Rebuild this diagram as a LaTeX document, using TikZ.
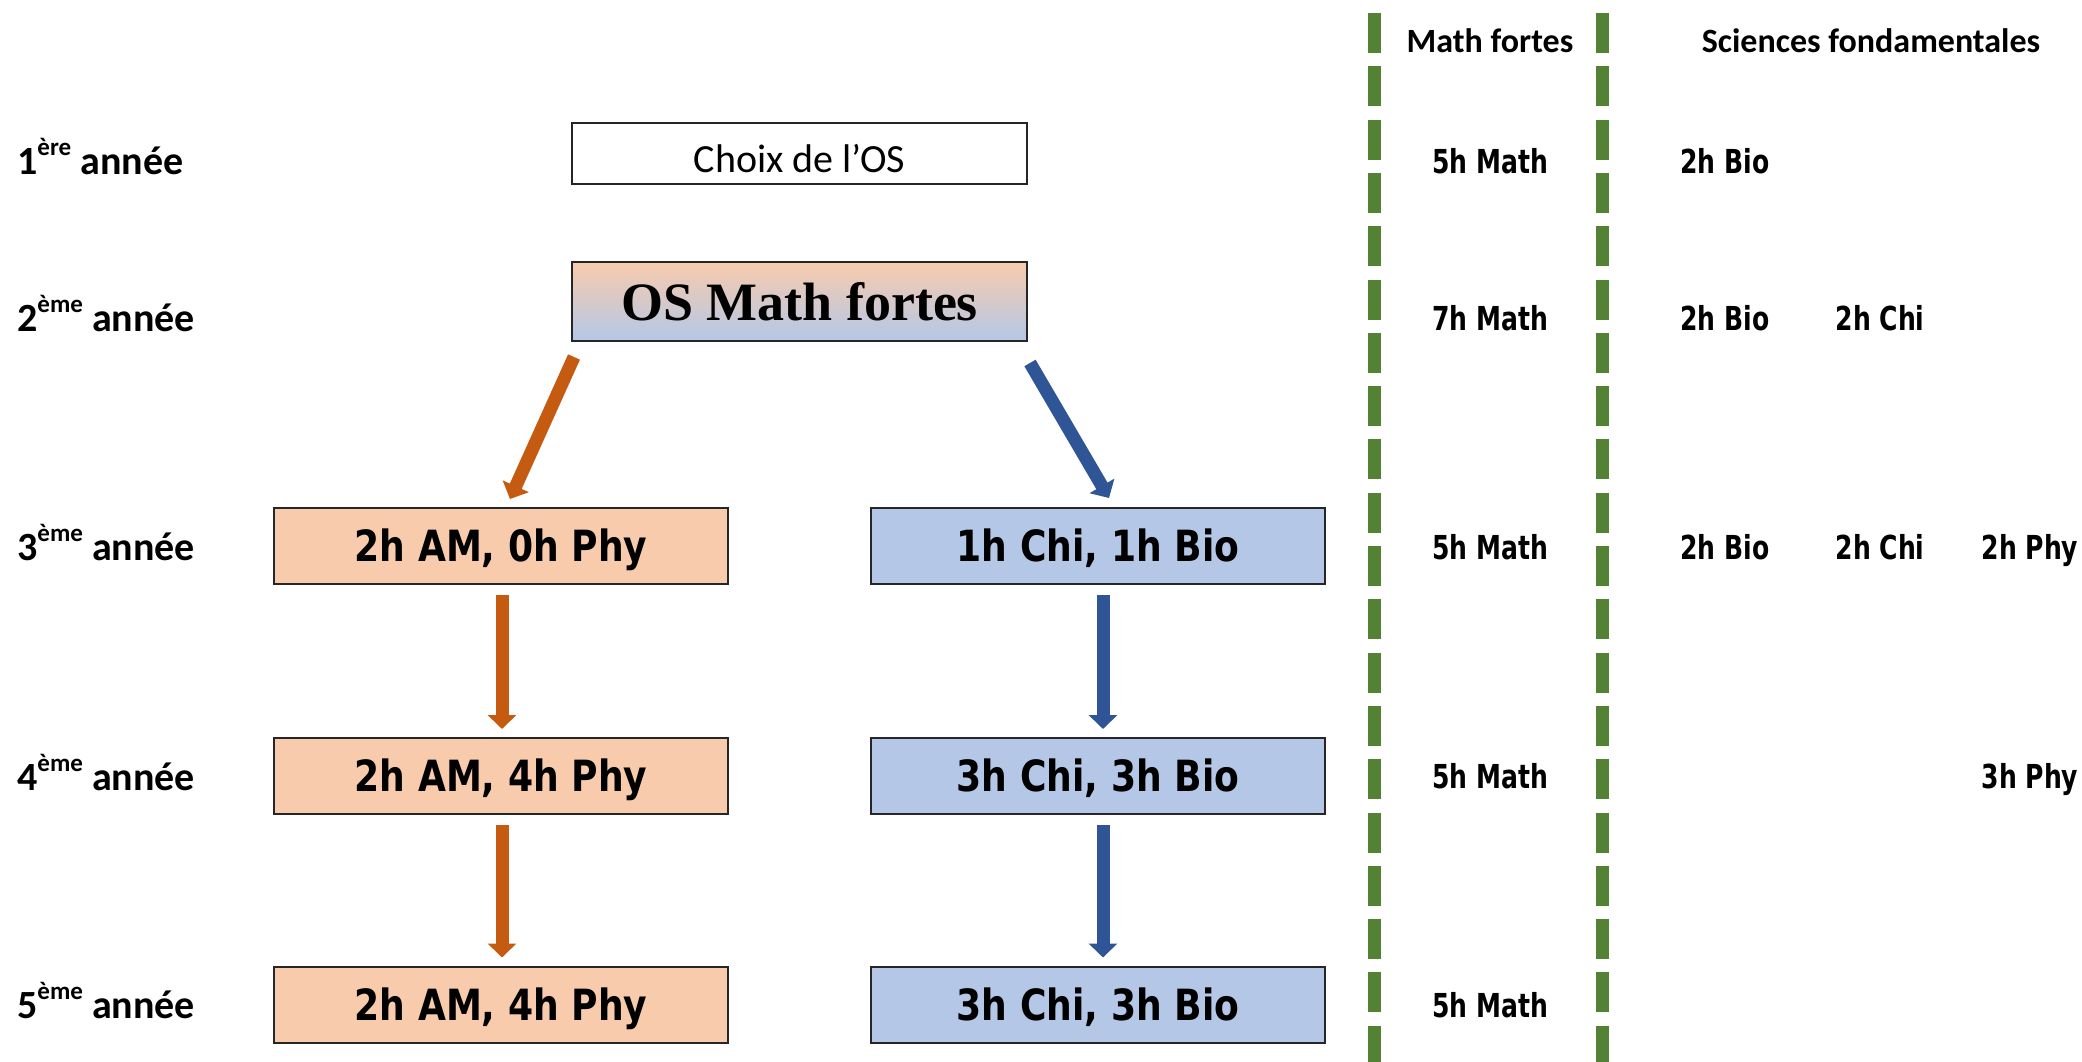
\documentclass[tikz,border=0pt]{standalone}
\usepackage{fontspec}
\setmainfont{Carlito}
\newfontfamily\hrsfont{DejaVu Sans}[FakeStretch=0.76]
\newfontfamily\boxfont{DejaVu Sans}[FakeStretch=0.84]
\newfontfamily\osfont{Liberation Serif}
\usetikzlibrary{arrows.meta,calc}
\definecolor{peach}{HTML}{F8CBAD}
\definecolor{lblue}{HTML}{B4C7E7}
\definecolor{oarr}{HTML}{C55A11}
\definecolor{barr}{HTML}{2F5597}
\definecolor{gline}{HTML}{548235}
\newcommand{\supx}[1]{\raisebox{19pt}{\fontsize{25}{28}\selectfont\bfseries #1}}
\begin{document}
\begin{tikzpicture}[x=1pt,y=-1pt,
  yearlbl/.style={anchor=base west,inner sep=0pt,font=\fontsize{40}{48}\selectfont\bfseries},
  hdr/.style={inner sep=0pt,font=\fontsize{34}{40}\selectfont\bfseries},
  hrs/.style={anchor=base,inner sep=0pt,font=\hrsfont\fontsize{33}{40}\selectfont\bfseries},
  yearbox/.style={draw=black!85,line width=2pt,minimum width=454pt,minimum height=76pt,inner sep=0pt,
     text height=31pt,text depth=0pt,
     font=\boxfont\fontsize{43}{50}\selectfont\bfseries},
  obox/.style={yearbox,fill=peach},
  bbox/.style={yearbox,fill=lblue},
  oarrow/.style={draw=oarr,line width=13pt,-{Triangle[width=28pt,length=14pt]},oarr},
  barrow/.style={draw=barr,line width=13pt,-{Triangle[width=28pt,length=14pt]},barr},
  gdash/.style={draw=gline,line width=13pt,dash pattern=on 40pt off 13.3pt}
]
\useasboundingbox[fill=white] (0,0) rectangle (2082,1062);

% dashed green separators
\draw[gdash] (1374,13) -- (1374,1062);
\draw[gdash] (1602,13) -- (1602,1062);

% headers
\node[hdr] (h1) at (1490,41) {Math fortes};
\node[hdr] (h2) at (1871,41) {Sciences fondamentales};

% year labels
\node[yearlbl] (y1) at (17,174) {1\supx{ère} année};
\node[yearlbl] (y2) at (17,331) {2\supx{ème} année};
\node[yearlbl] (y3) at (17,560) {3\supx{ème} année};
\node[yearlbl] (y4) at (17,790) {4\supx{ème} année};
\node[yearlbl] (y5) at (17,1018) {5\supx{ème} année};

% top boxes
\node[draw=black!85,line width=1.5pt,minimum width=455pt,minimum height=61pt,inner sep=0pt,
      text height=37pt,text depth=0pt,
      font=\fontsize{40}{48}\selectfont] (choix) at (799.5,153.5) {Choix de l’OS};
\node[draw=black!85,line width=2pt,minimum width=455pt,minimum height=79pt,inner sep=0pt,
      top color=peach,bottom color=lblue,middle color=lblue!50!peach,
      font=\osfont\fontsize{54}{60}\selectfont\bfseries] (os) at (799.5,301.5) {OS Math fortes};

% branch boxes
\node[obox] (o3) at (501,546) {2h AM, 0h Phy};
\node[obox] (o4) at (501,776) {2h AM, 4h Phy};
\node[obox] (o5) at (501,1004.5) {2h AM, 4h Phy};
\node[bbox] (b3) at (1098,546) {1h Chi, 1h Bio};
\node[bbox] (b4) at (1098,776) {3h Chi, 3h Bio};
\node[bbox] (b5) at (1098,1004.5) {3h Chi, 3h Bio};

% arrows
\draw[oarrow] ([xshift=3pt,yshift=-15pt]os.south west) -- ([xshift=9pt,yshift=8pt]o3.north);
\draw[barrow] ([xshift=2pt,yshift=-21pt]os.south east) -- ([xshift=11pt,yshift=9pt]b3.north);
\draw[oarrow] ([xshift=1pt,yshift=-10pt]o3.south) -- ([xshift=1pt,yshift=8pt]o4.north);
\draw[oarrow] ([xshift=1pt,yshift=-10pt]o4.south) -- ([xshift=1pt,yshift=8pt]o5.north);
\draw[barrow] ([xshift=5pt,yshift=-10pt]b3.south) -- ([xshift=5pt,yshift=8pt]b4.north);
\draw[barrow] ([xshift=5pt,yshift=-10pt]b4.south) -- ([xshift=5pt,yshift=8pt]b5.north);

% hours
\node[hrs] (m1) at (1490,173) {5h Math};
\node[hrs] (m2) at (1490,330) {7h Math};
\node[hrs] (m3) at (1490,559) {5h Math};
\node[hrs] (m4) at (1490,788) {5h Math};
\node[hrs] (m5) at (1490,1017) {5h Math};
\node[hrs] (s1b) at (1725,173) {2h Bio};
\node[hrs] (s2b) at (1725,330) {2h Bio};
\node[hrs] (s2c) at (1880,330) {2h Chi};
\node[hrs] (s3b) at (1725,559) {2h Bio};
\node[hrs] (s3c) at (1880,559) {2h Chi};
\node[hrs] (s3p) at (2030,559) {2h Phy};
\node[hrs] (s4p) at (2030,788) {3h Phy};
\end{tikzpicture}
\end{document}
